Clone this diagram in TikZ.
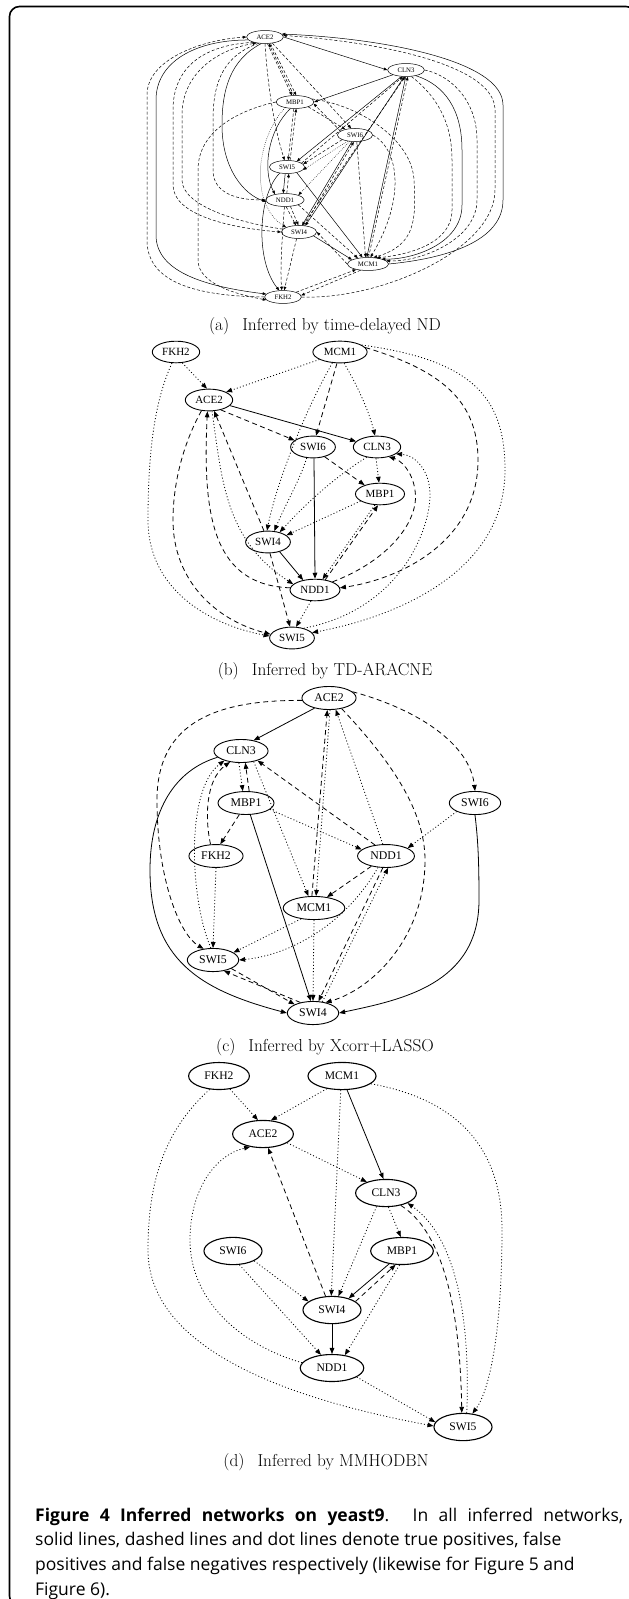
\documentclass[tikz,border=0pt]{standalone}
\usepackage{fontspec}
\usepackage{tikz}
\usetikzlibrary{arrows.meta,shapes.geometric}
\newfontfamily\genefont{Liberation Serif}
\newfontfamily\capfont{Open Sans}

\tikzset{
  gA/.style={ellipse,draw,line width=0.5pt,inner xsep=4.5pt,inner ysep=2.3pt,font=\genefont\fontsize{6.8}{7}\selectfont},
  gB/.style={ellipse,draw,line width=0.9pt,inner xsep=3pt,inner ysep=4pt,font=\genefont\fontsize{11}{11}\selectfont},
  gC/.style={ellipse,draw,line width=0.9pt,inner xsep=4.4pt,inner ysep=4.2pt,font=\genefont\fontsize{11.8}{12}\selectfont},
  gD/.style={ellipse,draw,line width=1.1pt,inner xsep=7pt,inner ysep=5.7pt,font=\genefont\fontsize{11.6}{12}\selectfont},
  tp/.style={draw,line width=0.8pt,-{Triangle[length=6pt,width=4.6pt]}},
  fp/.style={tp,dash pattern=on 5pt off 3.5pt},
  fn/.style={tp,dash pattern=on 1pt off 2.2pt},
  tpA/.style={draw,line width=0.5pt,-{Triangle[length=3.6pt,width=2.8pt]}},
  fpA/.style={tpA,dash pattern=on 3pt off 2pt},
  fnA/.style={tpA,dash pattern=on 0.6pt off 1.4pt},
  subcap/.style={font=\fontsize{17.3}{20}\selectfont}
}

\begin{document}
\begin{tikzpicture}[x=1pt,y=-1pt]
  \useasboundingbox (0,0) rectangle (629,1599);
  % frame
  \draw[line width=1.6pt,rounded corners=10pt] (9.5,6.5) rectangle (636,1606);

  % (a) time-delayed ND
  \node[gA] (aACE) at (265,37) {ACE2};
  \node[gA] (aCLN) at (406,70) {CLN3};
  \node[gA] (aMBP) at (295,102) {MBP1};
  \node[gA] (aSWI6) at (355,135) {SWI6};
  \node[gA] (aSWI5) at (287,167) {SWI5};
  \node[gA] (aNDD) at (285,200) {NDD1};
  \node[gA] (aSWI4) at (299,232) {SWI4};
  \node[gA] (aMCM) at (368,264) {MCM1};
  \node[gA] (aFKH) at (283,297) {FKH2};
  % outer curves, left
  \draw[fpA] (aFKH.west) .. controls (190,296) and (147,280) .. (147,240) -- (147,95) .. controls (147,60) and (200,40) .. (aACE.west);
  \draw[tpA] (aACE.190) .. controls (195,40) and (156,62) .. (156,100) -- (156,235) .. controls (156,270) and (200,286) .. (aFKH.170);
  \draw[fpA] (aACE.205) .. controls (200,45) and (173,70) .. (173,110) -- (173,185) .. controls (173,215) and (230,228) .. (aSWI4.west);
  \draw[fpA] (aSWI4.170) .. controls (235,222) and (182,205) .. (182,180) -- (182,115) .. controls (182,75) and (215,50) .. (aACE.215);
  \draw[fpA] (aACE.225) .. controls (225,55) and (213,80) .. (213,120) -- (213,170) .. controls (213,195) and (240,200) .. (aNDD.west);
  \draw[tpA] (aACE.240) .. controls (230,60) and (222,90) .. (222,125) .. controls (222,170) and (245,195) .. (aNDD.185);
  \draw[fpA] (aMBP.west) .. controls (240,110) and (198,130) .. (198,170) -- (198,260) .. controls (198,285) and (240,295) .. (aFKH.190);
  % outer curves, right
  \draw[tpA] (aMCM.east) .. controls (450,258) and (503,240) .. (503,200) -- (503,105) .. controls (503,60) and (380,38) .. (aACE.10);
  \draw[fpA] (aFKH.east) .. controls (380,300) and (495,250) .. (495,190) -- (495,110) .. controls (495,65) and (380,42) .. (aACE.5);
  \draw[fpA] (aCLN.east) .. controls (450,75) and (477,100) .. (477,140) -- (477,200) .. controls (477,240) and (420,262) .. (aMCM.10);
  \draw[tpA] (aCLN.330) .. controls (445,85) and (462,110) .. (462,150) -- (462,205) .. controls (462,245) and (410,260) .. (aMCM.20);
  \draw[fpA] (aCLN.310) .. controls (435,95) and (452,120) .. (452,160) -- (452,210) .. controls (452,245) and (405,255) .. (aMCM.35);
  \draw[fpA] (aMBP.10) .. controls (360,105) and (412,140) .. (414,180) .. controls (416,220) and (416,245) .. (aMCM.50);
  \draw[fpA] (aSWI6.east) .. controls (400,150) and (405,200) .. (aMCM.70);
  % inner edges
  \draw[tpA] (aACE.east) -- (aCLN.west);
  \draw[tpA] (aCLN.200) -- (aMBP.east);
  \draw[fpA] (aACE.290) -- (aMBP.115);
  \draw[fpA] (aMBP.100) -- (aACE.300);
  \draw[fpA] (aACE.310) -- (aMBP.80);
  \draw[fpA] (aACE.320) -- (aSWI6.120);
  \draw[fpA] (aACE.270) .. controls (268,90) and (275,130) .. (aSWI5.110);
  \draw[fpA] (aMBP.260) -- (aSWI5.80);
  \draw[fpA] (aSWI5.65) -- (aMBP.280);
  \draw[tpA] (aMBP.235) .. controls (268,130) and (262,170) .. (aNDD.150);
  \draw[tpA] (aSWI5.255) -- (aNDD.105);
  \draw[fpA] (aNDD.75) -- (aSWI5.285);
  \draw[fpA] (aMBP.340) -- (aSWI6.150);
  \draw[fpA] (aSWI6.165) -- (aMBP.355);
  \draw[fnA] (aMBP.210) .. controls (255,140) and (250,205) .. (aSWI4.160);
  \draw[tpA] (aCLN.235) -- (aSWI5.30);
  \draw[fpA] (aSWI5.15) -- (aCLN.245);
  \draw[tpA] (aCLN.255) -- (aSWI4.45);
  \draw[fpA] (aSWI4.60) -- (aCLN.262);
  \draw[tpA] (aCLN.268) -- (aMCM.100);
  \draw[fpA] (aMCM.85) -- (aCLN.285);
  \draw[fpA] (aSWI6.200) -- (aSWI5.10);
  \draw[fnA] (aSWI6.220) -- (aSWI5.350);
  \draw[tpA] (aSWI6.245) -- (aSWI4.65);
  \draw[fpA] (aSWI4.50) -- (aSWI6.260);
  \draw[fpA] (aSWI6.285) -- (aMCM.110);
  \draw[fnA] (aSWI6.230) -- (aNDD.20);
  \draw[tpA] (aSWI5.330) -- (aMCM.130);
  \draw[tpA] (aSWI5.220) .. controls (258,195) and (255,260) .. (aFKH.120);
  \draw[fpA] (aNDD.280) -- (aSWI4.115);
  \draw[fpA] (aNDD.310) -- (aSWI4.95);
  \draw[fpA] (aNDD.340) -- (aMCM.150);
  \draw[tpA] (aSWI4.345) -- (aMCM.165);
  \draw[fpA] (aMCM.180) -- (aSWI4.0);
  \draw[fpA] (aSWI4.250) -- (aFKH.80);
  \draw[fpA] (aNDD.265) .. controls (282,240) and (280,270) .. (aFKH.100);
  \draw[fpA] (aFKH.20) -- (aMCM.205);
  \draw[fpA] (aMCM.220) -- (aFKH.5);
  \node[subcap] (capA) at (325,326) {(a)\hspace{0.75em}Inferred by time-delayed ND};

  % (b) TD-ARACNE
  \node[gB] (bFKH) at (176,352) {FKH2};
  \node[gB] (bMCM) at (340,352) {MCM1};
  \node[gB] (bACE) at (209,400) {ACE2};
  \node[gB] (bSWI6) at (313,447) {SWI6};
  \node[gB] (bCLN) at (377,447) {CLN3};
  \node[gB] (bMBP) at (380,494) {MBP1};
  \node[gB] (bSWI4) at (268,542) {SWI4};
  \node[gB] (bNDD) at (315,590) {NDD1};
  \node[gB] (bSWI5) at (292,638) {SWI5};
  \draw[fn] (bFKH.300) -- (bACE.100);
  \draw[fn] (bFKH.250) .. controls (155,400) and (148,450) .. (148,520) .. controls (148,590) and (210,625) .. (bSWI5.175);
  \draw[fn] (bMCM.200) -- (bACE.25);
  \draw[fp] (bMCM.255) -- (bSWI6.75);
  \draw[fn] (bMCM.290) .. controls (360,390) and (370,415) .. (bCLN.100);
  \draw[fn] (bMCM.235) .. controls (300,420) and (275,490) .. (bSWI4.95);
  \draw[fp] (bMCM.10) .. controls (440,370) and (478,400) .. (478,460) .. controls (478,545) and (395,580) .. (bNDD.5);
  \draw[fn] (bMCM.18) .. controls (470,360) and (505,395) .. (505,470) .. controls (505,580) and (380,620) .. (bSWI5.15);
  \draw[tp] (bACE.345) -- (bCLN.165);
  \draw[fp] (bACE.320) -- (bSWI6.160);
  \draw[tp] (bSWI6.275) -- (bNDD.90);
  \draw[fp] (bSWI6.320) -- (bMBP.150);
  \draw[fn] (bCLN.265) -- (bMBP.95);
  \draw[fn] (bCLN.225) .. controls (330,480) and (300,510) .. (bSWI4.40);
  \draw[fn] (bMBP.200) -- (bSWI4.20);
  \draw[fn] (bSWI6.240) .. controls (300,480) and (285,505) .. (bSWI4.60);
  \draw[fp] (bSWI4.110) -- (bACE.295);
  \draw[tp] (bSWI4.320) -- (bNDD.140);
  \draw[fp] (bSWI4.280) -- (bSWI5.100);
  \draw[fn] (bNDD.250) -- (bSWI5.70);
  \draw[fp] (bNDD.175) .. controls (215,585) and (202,520) .. (bACE.262);
  \draw[fn] (bACE.285) .. controls (222,480) and (225,540) .. (bNDD.165);
  \draw[fp] (bACE.235) .. controls (185,440) and (173,480) .. (173,520) .. controls (173,580) and (215,620) .. (bSWI5.170);
  \draw[fn] (bMBP.245) -- (bNDD.55);
  \draw[fp] (bNDD.45) -- (bMBP.260);
  \draw[fp] (bNDD.25) .. controls (390,560) and (420,520) .. (415,490) .. controls (412,470) and (400,460) .. (bCLN.320);
  \draw[fn] (bSWI5.40) .. controls (400,610) and (430,530) .. (430,495) .. controls (430,470) and (415,455) .. (bCLN.340);
  \node[subcap] (capB) at (325,671) {(b)\hspace{0.75em}Inferred by TD-ARACNE};

  % (c) Xcorr+LASSO
  \node[gC] (cACE) at (329,698) {ACE2};
  \node[gC] (cCLN) at (241,751) {CLN3};
  \node[gC] (cMBP) at (246,803) {MBP1};
  \node[gC] (cSWI6) at (475,803) {SWI6};
  \node[gC] (cFKH) at (216,856) {FKH2};
  \node[gC] (cNDD) at (386,856) {NDD1};
  \node[gC] (cMCM) at (314,908) {MCM1};
  \node[gC] (cSWI5) at (213,960) {SWI5};
  \node[gC] (cSWI4) at (313,1013) {SWI4};
  \draw[tp] (cACE.215) -- (cCLN.40);
  \draw[fp] (cACE.15) .. controls (420,710) and (470,745) .. (cSWI6.90);
  \draw[fn] (cCLN.260) -- (cMBP.105);
  \draw[fp] (cMBP.75) -- (cCLN.290);
  \draw[tp] (cCLN.195) .. controls (175,770) and (150,810) .. (150,870) .. controls (150,960) and (200,990) .. (cSWI4.180);
  \draw[tp] (cSWI6.270) .. controls (478,840) and (479,860) .. (479,900) .. controls (479,985) and (400,1000) .. (cSWI4.0);
  \draw[tp] (cMBP.290) -- (cSWI4.100);
  \draw[fp] (cMBP.240) -- (cFKH.70);
  \draw[fn] (cMBP.345) -- (cNDD.165);
  \draw[fn] (cSWI6.205) -- (cNDD.20);
  \draw[fp] (cNDD.135) -- (cCLN.330);
  \draw[fp] (cFKH.115) .. controls (205,820) and (205,780) .. (cCLN.225);
  \draw[fn] (cSWI5.100) .. controls (190,900) and (185,790) .. (cCLN.210);
  \draw[fp] (cACE.185) .. controls (220,700) and (157,720) .. (157,800) .. controls (157,880) and (180,935) .. (cSWI5.130);
  \draw[fn] (cFKH.270) -- (cSWI5.90);
  \draw[fp] (cNDD.215) -- (cMCM.40);
  \draw[fp] (cMCM.100) -- (cACE.262);
  \draw[fn] (cACE.275) -- (cMCM.80);
  \draw[fn] (cNDD.105) -- (cACE.300);
  \draw[fp] (cACE.320) .. controls (390,760) and (425,810) .. (425,860) .. controls (425,940) and (370,990) .. (cSWI4.40);
  \draw[fn] (cCLN.320) -- (cMCM.115);
  \draw[fn] (cMCM.220) -- (cSWI5.20);
  \draw[fn] (cNDD.235) .. controls (345,925) and (290,955) .. (cSWI5.0);
  \draw[fn] (cMCM.270) -- (cSWI4.90);
  \draw[fp] (cNDD.255) -- (cSWI4.65);
  \draw[fn] (cSWI4.50) -- (cNDD.280);
  \draw[fp] (cSWI5.335) -- (cSWI4.155);
  \draw[fp] (cSWI4.140) -- (cSWI5.315);
  \node[subcap] (capC) at (325,1047) {(c)\hspace{0.75em}Inferred by Xcorr+LASSO};

  % (d) MMHODBN
  \node[gD] (dFKH) at (219,1076) {FKH2};
  \node[gD] (dMCM) at (342,1076) {MCM1};
  \node[gD] (dACE) at (263,1134) {ACE2};
  \node[gD] (dCLN) at (386,1193) {CLN3};
  \node[gD] (dSWI6) at (233,1251) {SWI6};
  \node[gD] (dMBP) at (402,1251) {MBP1};
  \node[gD] (dSWI4) at (332,1310) {SWI4};
  \node[gD] (dNDD) at (332,1368) {NDD1};
  \node[gD] (dSWI5) at (463,1427) {SWI5};
  \draw[fn] (dFKH.310) -- (dACE.110);
  \draw[fn] (dFKH.235) .. controls (165,1130) and (148,1180) .. (148,1250) .. controls (148,1330) and (240,1390) .. (dSWI5.178);
  \draw[fn] (dMCM.220) -- (dACE.60);
  \draw[tp] (dMCM.290) -- (dCLN.100);
  \draw[fn] (dMCM.265) -- (dSWI4.93);
  \draw[fn] (dMCM.345) .. controls (460,1100) and (502,1150) .. (502,1230) .. controls (502,1330) and (490,1390) .. (dSWI5.55);
  \draw[fn] (dACE.340) -- (dCLN.150);
  \draw[fn] (dNDD.170) .. controls (240,1345) and (190,1300) .. (190,1240) .. controls (190,1190) and (215,1155) .. (dACE.225);
  \draw[fp] (dSWI4.115) -- (dACE.290);
  \draw[fn] (dCLN.280) -- (dMBP.95);
  \draw[fn] (dCLN.235) -- (dSWI4.65);
  \draw[fp] (dCLN.320) .. controls (440,1230) and (460,1300) .. (dSWI5.95);
  \draw[fn] (dSWI5.75) .. controls (470,1330) and (460,1240) .. (dCLN.335);
  \draw[tp] (dMBP.225) -- (dSWI4.35);
  \draw[fp] (dSWI4.20) -- (dMBP.245);
  \draw[fn] (dMBP.260) -- (dNDD.45);
  \draw[fn] (dSWI6.335) -- (dSWI4.160);
  \draw[fn] (dSWI6.295) -- (dNDD.130);
  \draw[tp] (dSWI4.270) -- (dNDD.90);
  \draw[fn] (dNDD.340) -- (dSWI5.170);
  \node[subcap] (capD) at (326,1462) {(d)\hspace{0.75em}Inferred by MMHODBN};

  % caption
  \node[anchor=base west,inner sep=0pt,text width=588pt,align=justify,font=\capfont\fontsize{17.5}{24.8}\selectfont] (fig) at (35,1521)
    {\textbf{Figure 4 Inferred networks on yeast9}. In all inferred networks,\linebreak
     solid lines, dashed lines and dot lines denote true positives, false\newline
     positives and false negatives respectively (likewise for Figure 5 and\newline
     Figure 6).};
\end{tikzpicture}
\end{document}
